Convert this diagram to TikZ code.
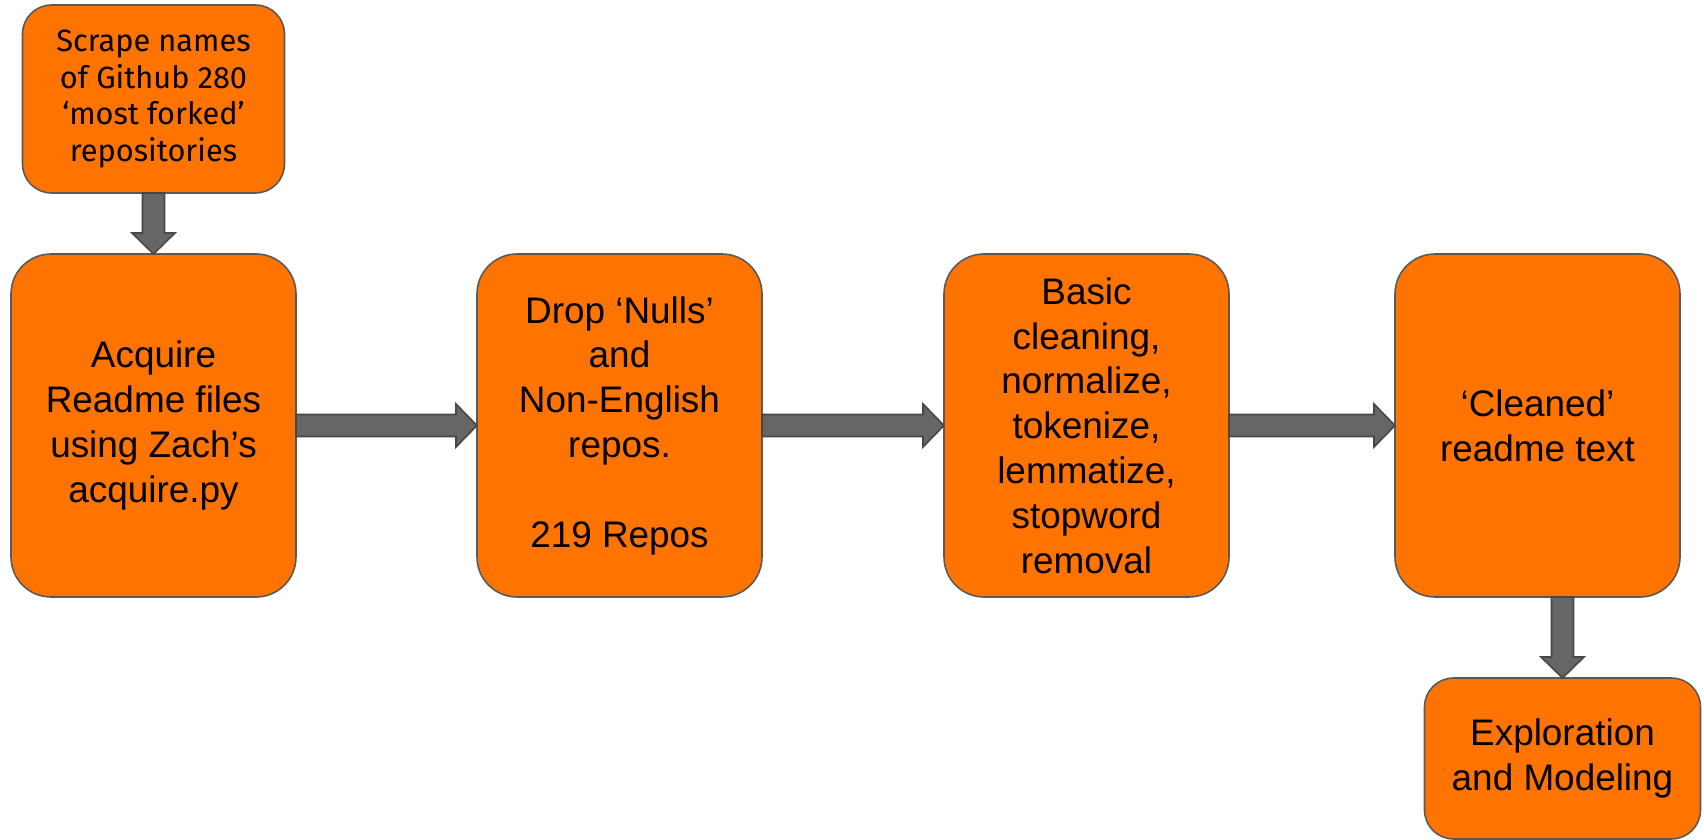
\documentclass[tikz,border=0pt]{standalone}
\usepackage{fontspec}
\setmainfont{Liberation Sans}
\newfontfamily\scrapefont{Fira Sans}
\usetikzlibrary{positioning,calc}
\definecolor{boxorange}{HTML}{FF7300}
\definecolor{boxedge}{HTML}{595959}
\definecolor{arrfill}{HTML}{666666}
\definecolor{arredge}{HTML}{474747}
\tikzset{
  stage/.style={draw=boxedge,fill=boxorange,line width=0.9pt,rounded corners=0.8cm,minimum width=5.7cm,minimum height=6.86cm,align=center,inner sep=0pt,outer sep=0pt,font=\fontsize{21}{25.5}\selectfont},
  smallstage/.style={stage,rounded corners=0.58cm},
  fatarr/.style={draw=arredge,fill=arrfill,line width=0.9pt,to path={
    let \p1=($(\tikztotarget)!0.42cm!(\tikztostart)$) in
    ($(\tikztostart)!0.22cm!90:(\tikztotarget)$) -- ($(\p1)!0.22cm!-90:(\tikztostart)$)
    -- ($(\p1)!0.43cm!-90:(\tikztostart)$) -- (\tikztotarget)
    -- ($(\p1)!0.43cm!90:(\tikztostart)$) -- ($(\p1)!0.22cm!90:(\tikztostart)$)
    -- ($(\tikztostart)!0.22cm!-90:(\tikztotarget)$) -- cycle}}
}
\begin{document}
\begin{tikzpicture}
  \useasboundingbox (0,0) rectangle (34.08,-16.8);

  \node[stage] (acquire) at (3.07,-8.51) {Acquire\\Readme files\\using Zach’s\\acquire.py};
  \node[stage, right=3.62cm of acquire] (drop) {Drop ‘Nulls’\\and\\Non-English\\repos.\\[25.5pt]219 Repos};
  \node[stage, right=3.64cm of drop] (basic) {Basic\\cleaning,\\normalize,\\tokenize,\\lemmatize,\\stopword\\removal};
  \node[stage, right=3.32cm of basic] (cleaned) {‘Cleaned’\\readme text};

  \node[smallstage, above=1.22cm of acquire, minimum width=5.24cm, minimum height=3.76cm, font=\scrapefont\fontsize{17.5}{20.8}\selectfont] (scrape) {Scrape names\\of Github 280\\‘most forked’\\repositories};
  \node[smallstage, below=1.62cm of cleaned, xshift=0.5cm, minimum width=5.52cm, minimum height=3.22cm] (explore) {Exploration\\and Modeling};

  \draw[fatarr] (scrape.south) to (acquire.north);
  \draw[fatarr] (acquire.east) to (drop.west);
  \draw[fatarr] (drop.east) to (basic.west);
  \draw[fatarr] (basic.east) to (cleaned.west);
  \draw[fatarr] (cleaned.south -| explore.north) to (explore.north);
\end{tikzpicture}
\end{document}
